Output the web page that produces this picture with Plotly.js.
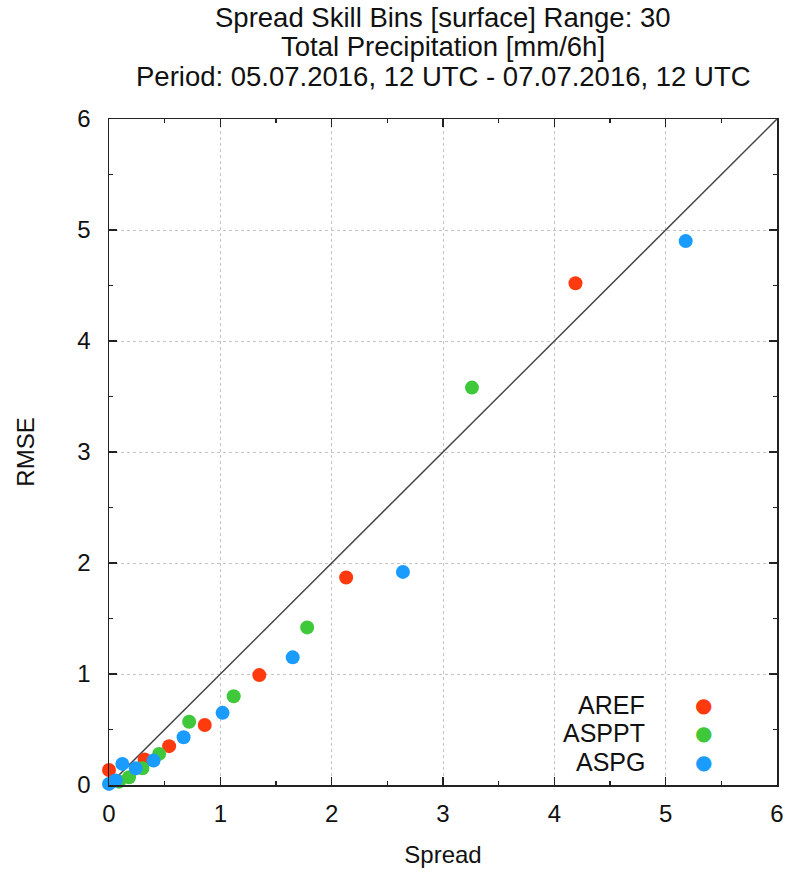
<!DOCTYPE html>
<html>
<head>
<meta charset="utf-8">
<script src="https://cdn.plot.ly/plotly-3.0.1.min.js"></script>
<style>html,body{margin:0;padding:0;background:#fff;}#chart{width:791px;height:877px;}</style>
</head>
<body>
<div id="chart"></div>
<script>
// Series data (Spread, RMSE)
const seriesNames = ['AREF', 'ASPPT', 'ASPG'];
const seriesColors = ['#ff3a0e', '#3ec83a', '#1a9cff'];

const arefSpread = [0.00, 0.32, 0.54, 0.86, 1.35, 2.13, 4.19];
const arefRmse   = [0.135, 0.23, 0.35, 0.54, 0.99, 1.87, 4.52];

const aspptSpread = [0.09, 0.18, 0.30, 0.45, 0.72, 1.12, 1.78, 3.26];
const aspptRmse   = [0.03, 0.07, 0.15, 0.28, 0.57, 0.80, 1.42, 3.58];

const aspgSpread = [0.00, 0.06, 0.12, 0.24, 0.40, 0.67, 1.02, 1.65, 2.64, 5.18];
const aspgRmse   = [0.01, 0.04, 0.19, 0.15, 0.22, 0.43, 0.65, 1.15, 1.92, 4.90];

const diagonal = [0, 6];
const axisRange = [0, 6];
const tickVals = [0, 1, 2, 3, 4, 5, 6];
const tickText = ['0', '1', '2', '3', '4', '5', '6'];

const titleLines = [
  'Spread Skill Bins [surface] Range: 30',
  'Total Precipitation [mm/6h]',
  'Period: 05.07.2016, 12 UTC - 07.07.2016, 12 UTC'
];

const xs = [arefSpread, aspptSpread, aspgSpread];
const ys = [arefRmse, aspptRmse, aspgRmse];

const FONT = 'Liberation Sans, Arial, Helvetica, sans-serif';

const traces = [{
  x: diagonal, y: diagonal, mode: 'lines', type: 'scatter',
  line: {color: '#444444', width: 1.5}, showlegend: false, hoverinfo: 'skip'
}];
seriesNames.forEach((n, i) => {
  traces.push({
    x: xs[i], y: ys[i], name: n, type: 'scatter', mode: 'markers',
    marker: {color: seriesColors[i], size: 14, line: {width: 0}},
    cliponaxis: false, showlegend: false
  });
});

const annotations = [];
const titleY = [1.1525, 1.1096, 1.0631];
titleLines.forEach((t, i) => {
  annotations.push({
    text: t, xref: 'paper', yref: 'paper', x: 0.5, y: titleY[i],
    xanchor: 'center', yanchor: 'middle', showarrow: false,
    font: {family: FONT, size: 27.5, color: '#111'}
  });
});
// gnuplot-style key: name right-aligned, marker to the right
const keyY = [0.1201, 0.0781, 0.0345];
seriesNames.forEach((n, i) => {
  annotations.push({
    text: n, xref: 'paper', yref: 'paper', x: 0.806, y: keyY[i],
    xanchor: 'right', yanchor: 'middle', showarrow: false,
    font: {family: FONT, size: 25, color: '#111'}
  });
  annotations.push({
    text: '\u25CF', xref: 'paper', yref: 'paper', x: 0.89, y: keyY[i],
    xanchor: 'center', yanchor: 'middle', showarrow: false,
    font: {family: 'DejaVu Sans', size: 20, color: seriesColors[i]}
  });
});

const axisCommon = {
  range: axisRange, tickvals: tickVals, ticktext: tickText,
  ticks: 'inside', ticklen: 8, tickwidth: 1.2, tickcolor: '#222',
  showline: true, linecolor: '#222', linewidth: 1.5, mirror: 'allticks',
  showgrid: true, gridcolor: '#c4c4c4', griddash: 'dot', gridwidth: 1,
  zeroline: false, fixedrange: true,
  tickfont: {family: FONT, size: 24, color: '#111'},
  minor: {dtick: 0.5, tick0: 0, ticks: 'inside', ticklen: 4, tickcolor: '#222', showgrid: false}
};

const layout = {
  width: 791, height: 877,
  margin: {l: 109, r: 14, t: 119, b: 92},
  paper_bgcolor: '#ffffff', plot_bgcolor: '#ffffff',
  showlegend: false,
  xaxis: Object.assign({}, axisCommon, {
    title: {text: 'Spread', font: {family: FONT, size: 24, color: '#111'}, standoff: 20},
    ticklabelstandoff: 7
  }),
  yaxis: Object.assign({}, axisCommon, {
    title: {text: 'RMSE', font: {family: FONT, size: 24, color: '#111'}, standoff: 36},
    ticklabelstandoff: 12
  }),
  annotations: annotations
};

Plotly.newPlot('chart', traces, layout, {displayModeBar: false, staticPlot: true});
</script>
</body>
</html>
